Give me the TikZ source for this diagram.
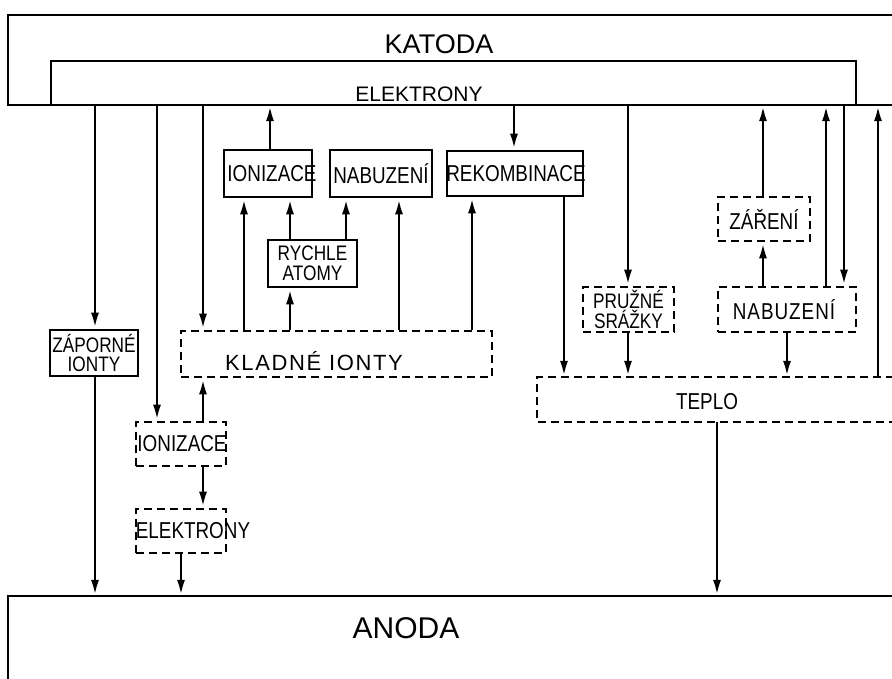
\documentclass[tikz,border=0pt]{standalone}
\usepackage{fontspec}
\setmainfont{Liberation Sans}
\newfontfamily\cf[FakeStretch=0.82]{Liberation Sans}
\usetikzlibrary{arrows.meta}
\newcommand\zb[1]{\makebox[0pt]{#1}}
\begin{document}
\begin{tikzpicture}[x=1pt,y=-1pt,
  ln/.style={line width=2.8pt},
  arr/.style={line width=2.8pt,-{Latex[length=16pt,width=8pt]}},
  dsh/.style={line width=2.8pt,dash pattern=on 8pt off 5pt},
  sbox/.style={draw,line width=2.8pt,inner sep=0pt,font=\cf\fontsize{23}{25}\selectfont,align=center},
  dbox/.style={sbox,dash pattern=on 8pt off 5pt},
  twoline/.style={font=\cf\fontsize{21}{19.5}\selectfont},
  region/.style={inner sep=0pt}]
\useasboundingbox (0,0) rectangle (892,679);
\clip (0,0) rectangle (892,679);

% KATODA / ELEKTRONY
\draw[ln] (894,15) -- (8,15) -- (8,105) -- (894,105);
\draw[ln] (51,105) -- (51,61) -- (856,61) -- (856,105);
\node[region,minimum width=841pt,minimum height=44pt] (el) at (471.5,83) {};
\node[font=\fontsize{27}{29}\selectfont] (katlab) at (439,44) {KATODA};
\node[font=\fontsize{21}{23}\selectfont] (ellab) at (419,94) {ELEKTRONY};

% ANODA
\draw[ln] (894,596) -- (8,596) -- (8,681);
\node[region,minimum width=884pt,minimum height=83pt] (an) at (450,637.5) {};
\node[font=\fontsize{30}{32}\selectfont] (anlab) at (406,628) {ANODA};

% TEPLO
\draw[dsh] (894,377) -- (537,377) -- (537,422) -- (894,422);
\node[region,minimum width=355pt,minimum height=45pt] (tep) at (714.5,399.5) {};
\node[font=\cf\fontsize{23}{25}\selectfont] (teplab) at (707,402) {TEPLO};

% boxes
\node[sbox,minimum width=88pt,minimum height=47pt] (ionA) at (268,173.5) {\zb{\hspace*{8pt}IONIZACE}};
\node[sbox,minimum width=102pt,minimum height=47pt] (nabA) at (381,173.5) {\zb{NABUZENÍ}};
\node[sbox,minimum width=136pt,minimum height=45pt] (rek) at (515,173.5) {\zb{\hspace*{2pt}REKOMBINACE}};
\node[sbox,twoline,minimum width=89pt,minimum height=47pt] (ryc) at (312.5,263.5) {\zb{RYCHLE}\\\zb{ATOMY}};
\node[sbox,twoline,minimum width=88pt,minimum height=46pt] (zap) at (94,353) {\zb{ZÁPORNÉ}\\\zb{IONTY}};
\node[dbox,minimum width=311pt,minimum height=46pt] (kl) at (336.5,354) {};
\node[font=\fontsize{22}{24}\selectfont] (kllab) at (314,361) {K\kern1.6pt L\kern1.6pt A\kern1.6pt D\kern1.6pt N\kern1.6pt É\kern8pt I\kern1.6pt O\kern1.6pt N\kern1.6pt T\kern1.6pt Y};
\node[dbox,minimum width=90pt,minimum height=44pt] (ionB) at (181,444) {\zb{\hspace*{2pt}IONIZACE}};
\node[dbox,minimum width=90pt,minimum height=44pt] (elB) at (181,531) {\zb{\hspace*{24pt}ELEKTRONY}};
\node[dbox,twoline,minimum width=91pt,minimum height=45pt] (pru) at (628.5,309.5) {\zb{PRUŽNÉ}\\\zb{SRÁŽKY}};
\node[dbox,minimum width=92pt,minimum height=44pt] (zar) at (764,219) {\zb{ZÁŘENÍ}};
\node[dbox,minimum width=138pt,minimum height=45pt] (nabB) at (787,309.5) {\zb{\hspace*{-6pt}N\kern1pt A\kern1pt B\kern1pt U\kern1pt Z\kern1pt E\kern1pt N\kern1pt Í}};

% column coordinates
\foreach \c in {95,157,181,203,244,270,290,346,399,472,514,564,628,717,763,787,826,844,878}
  \coordinate (c\c) at (\c,0);

% connectors
\draw[arr] (el.south -| c95) -- (zap.north -| c95);
\draw[arr] (zap.south -| c95) -- (an.north -| c95);
\draw[arr] (el.south -| c157) -- (ionB.north -| c157);
\draw[arr] (el.south -| c203) -- (kl.north -| c203);
\draw[arr] (ionA.north -| c270) -- (el.south -| c270);
\draw[arr] (kl.north -| c244) -- (ionA.south -| c244);
\draw[arr] (ryc.north -| c290) -- (ionA.south -| c290);
\draw[arr] (ryc.north -| c346) -- (nabA.south -| c346);
\draw[arr] (kl.north -| c290) -- (ryc.south -| c290);
\draw[arr] (kl.north -| c399) -- (nabA.south -| c399);
\draw[arr] (kl.north -| c472) -- (rek.south -| c472);
\draw[arr] (el.south -| c514) -- (rek.north -| c514);
\draw[arr] (rek.south -| c564) -- (tep.north -| c564);
\draw[arr] (el.south -| c628) -- (pru.north -| c628);
\draw[arr] (pru.south -| c628) -- (tep.north -| c628);
\draw[arr] (zar.north -| c763) -- (el.south -| c763);
\draw[arr] (nabB.north -| c763) -- (zar.south -| c763);
\draw[arr] (nabB.north -| c826) -- (el.south -| c826);
\draw[arr] (el.south -| c844) -- (nabB.north -| c844);
\draw[arr] (nabB.south -| c787) -- (tep.north -| c787);
\draw[arr] (tep.north -| c878) -- (el.south -| c878);
\draw[arr] (ionB.north -| c203) -- (kl.south -| c203);
\draw[arr] (ionB.south -| c203) -- (elB.north -| c203);
\draw[arr] (elB.south -| c181) -- (an.north -| c181);
\draw[arr] (tep.south -| c717) -- (an.north -| c717);
\end{tikzpicture}
\end{document}
